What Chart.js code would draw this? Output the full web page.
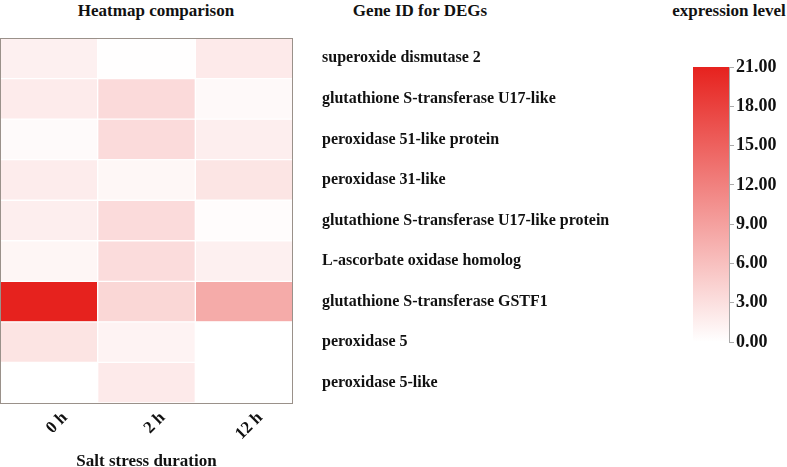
<!DOCTYPE html>
<html>
<head>
<meta charset="utf-8">
<script src="https://cdn.jsdelivr.net/npm/chart.js@4/dist/chart.umd.min.js"></script>
<style>
  body { margin: 0; background: #fff; }
  #wrap { position: relative; width: 787px; height: 467px; font-family: "Liberation Serif", serif; }
  .ttl { position: absolute; top: 1px; font-weight: bold; font-size: 17px; color: #111; transform: translateX(-50%); white-space: nowrap; }
  #heat { position: absolute; left: 0; top: 0; }
  #bar { position: absolute; left: 640px; top: 0; }
</style>
</head>
<body>
<div id="wrap">
  <div class="ttl" style="left:156px">Heatmap comparison</div>
  <div class="ttl" style="left:420px">Gene ID for DEGs</div>
  <div class="ttl" style="left:729px">expression level</div>
  <canvas id="heat" width="640" height="467"></canvas>
  <canvas id="bar" width="147" height="467"></canvas>
</div>
<script>
const genes = [
  "superoxide dismutase 2",
  "glutathione S-transferase U17-like",
  "peroxidase 51-like protein",
  "peroxidase 31-like",
  "glutathione S-transferase U17-like protein",
  "L-ascorbate oxidase homolog",
  "glutathione S-transferase GSTF1",
  "peroxidase 5",
  "peroxidase 5-like"
];
const times = ["0 h", "2 h", "12 h"];
const level0h  = [1.4, 1.9, 0.5, 1.8, 1.6, 0.9, 21.0, 2.6, 0.0];
const level2h  = [0.1, 3.5, 3.4, 0.8, 3.4, 3.3, 3.8, 1.1, 2.0];
const level12h = [2.0, 0.6, 1.6, 2.5, 0.3, 1.4, 8.0, 0.0, 0.0];
const scaleMin = 0, scaleMax = 21, scaleStep = 3;

const hot = [230, 34, 30];
function shade(v) {
  const t = Math.max(0, Math.min(1, (v - scaleMin) / (scaleMax - scaleMin)));
  const c = hot.map(h => Math.round(255 + (h - 255) * t));
  return `rgb(${c[0]},${c[1]},${c[2]})`;
}

const serif = "'Liberation Serif', serif";

const boxPlugin = {
  id: "box",
  afterDatasetsDraw(chart) {
    const a = chart.chartArea, ctx = chart.ctx;
    ctx.save();
    ctx.strokeStyle = "#9a918a";
    ctx.lineWidth = 1;
    ctx.strokeRect(a.left + 0.5, a.top + 0.5, a.right - a.left - 1, a.bottom - a.top);
    ctx.restore();
  }
};

const cols = [level0h, level2h, level12h];
new Chart(document.getElementById("heat"), {
  type: "bar",
  data: {
    labels: genes,
    datasets: cols.map((vals, i) => ({
      label: times[i],
      data: vals.map(() => 1),
      backgroundColor: vals.map(shade),
      borderColor: "#ffffff",
      borderWidth: 1,
      borderSkipped: false,
      barPercentage: 1,
      categoryPercentage: 1
    }))
  },
  options: {
    indexAxis: "y",
    responsive: false,
    animation: false,
    layout: { padding: { left: 0, top: 38, right: 0, bottom: 0 } },
    plugins: { legend: { display: false }, tooltip: { enabled: false } },
    scales: {
      x: {
        type: "linear", stacked: true, min: 0, max: 3,
        grid: { display: false }, border: { display: false },
        afterBuildTicks: s => { s.ticks = [{ value: 0.5 }, { value: 1.5 }, { value: 2.5 }]; },
        afterFit: s => { s.height = 64; },
        ticks: {
          color: "#111", font: { family: serif, weight: "bold", size: 17 },
          minRotation: 45, maxRotation: 45,
          padding: -3, labelOffset: 16,
          callback: (v, i) => times[i]
        },
        title: { display: true, text: "Salt stress duration", color: "#111", padding: { top: 0, bottom: -5 },
                 font: { family: serif, weight: "bold", size: 17 } }
      },
      y: {
        stacked: true, position: "right",
        grid: { display: false }, border: { display: false },
        afterFit: s => { s.width = 347; },
        ticks: { color: "#111", font: { family: serif, weight: "bold", size: 16 }, padding: 21, crossAlign: "near" }
      }
    }
  },
  plugins: [boxPlugin]
});

new Chart(document.getElementById("bar"), {
  type: "bar",
  data: {
    labels: ["level"],
    datasets: [{
      data: [[scaleMin, scaleMax]],
      barPercentage: 1,
      categoryPercentage: 1,
      backgroundColor: ctx => {
        const a = ctx.chart.chartArea;
        if (!a) return shade(scaleMax);
        const g = ctx.chart.ctx.createLinearGradient(0, a.bottom, 0, a.top);
        g.addColorStop(0, shade(scaleMin));
        g.addColorStop(1, shade(scaleMax));
        return g;
      }
    }]
  },
  options: {
    responsive: false,
    animation: false,
    layout: { padding: { left: 53, top: 67, right: 0, bottom: 125 } },
    plugins: { legend: { display: false }, tooltip: { enabled: false } },
    scales: {
      x: { display: false },
      y: {
        position: "right", min: scaleMin, max: scaleMax,
        border: { display: true, color: "#aaaaaa" },
        grid: { drawOnChartArea: false, color: "#aaaaaa", tickLength: 5 },
        afterFit: s => { s.width = 58; },
        ticks: {
          stepSize: scaleStep, color: "#111", padding: 2,
          font: { family: serif, weight: "bold", size: 18 },
          callback: v => v.toFixed(2)
        }
      }
    }
  }
});
</script>
</body>
</html>
